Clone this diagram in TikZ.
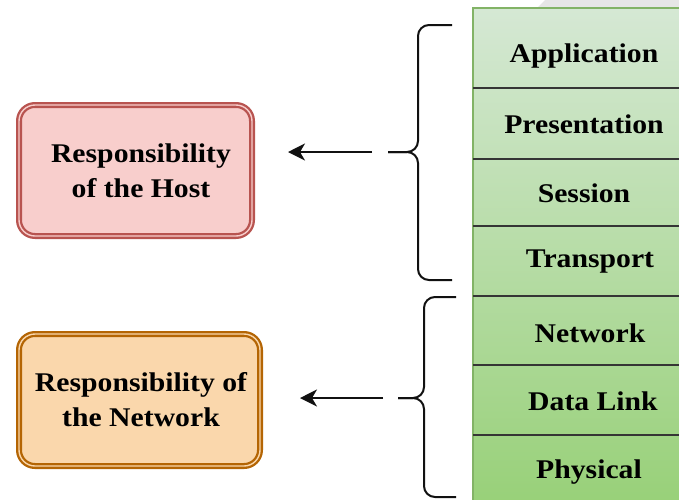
\documentclass[tikz,border=0pt]{standalone}
\usepackage{fontspec}
\setmainfont{Liberation Serif}[FakeStretch=1.1]
\usetikzlibrary{arrows.meta}
\definecolor{hostfill}{HTML}{F8CECC}
\definecolor{hoststroke}{HTML}{B85450}
\definecolor{netfill}{HTML}{FAD7AC}
\definecolor{netstroke}{HTML}{B46504}
\definecolor{greentop}{HTML}{D5E8D4}
\definecolor{greenbot}{HTML}{97D077}
\definecolor{greenstroke}{HTML}{82B366}
\definecolor{shadegray}{HTML}{E6E6E6}
\definecolor{inkblack}{HTML}{111111}
\tikzset{
  layerlabel/.style={font=\fontsize{27}{35}\selectfont\bfseries, inner sep=0pt, anchor=base},
  boxtext/.style={font=\fontsize{27}{35}\selectfont\bfseries, align=center, inner sep=0pt},
  respbox/.style={rounded corners=16pt, line width=2.3pt, double distance=1.4pt, inner sep=0pt},
  hostbox/.style={respbox, draw=hoststroke, double=hostfill, fill=hostfill},
  netbox/.style={respbox, draw=netstroke, double=netfill, fill=netfill},
  sepline/.style={draw=inkblack!85, line width=1.6pt},
  bracepath/.style={draw=inkblack, line width=2pt, rounded corners=11pt},
  pointer/.style={draw=inkblack, line width=2pt, -{Stealth[length=17pt, width=17pt, inset=5pt]}}
}
\begin{document}
\begin{tikzpicture}[x=1pt,y=-1pt]
\useasboundingbox (0,0) rectangle (679,499);
\clip (0,0) rectangle (679,499);
% background shade top right
\fill[shadegray] (545,0) -- (700,0) -- (700,8) -- (537,8) -- cycle;
% OSI stack
\path[top color=greentop, bottom color=greenbot, draw=greenstroke, line width=1.6pt] (473,8) rectangle (712,512);
\draw[sepline] (473,88) -- (712,88);
\draw[sepline] (473,159) -- (712,159);
\draw[sepline] (473,226) -- (712,226);
\draw[sepline] (473,296) -- (712,296);
\draw[sepline] (473,365) -- (712,365);
\draw[sepline] (473,435) -- (712,435);
\node[layerlabel] (app) at (584,62) {Application};
\node[layerlabel] (pres) at (584,133) {Presentation};
\node[layerlabel] (sess) at (584,202) {Session};
\node[layerlabel] (trans) at (590,267) {Transport};
\node[layerlabel] (net) at (590,342) {Network};
\node[layerlabel] (dlink) at (593,410) {Data Link};
\node[layerlabel] (phys) at (589,478) {Physical};
% braces
\draw[bracepath] (452,25) -- (418,25) -- (418,152) -- (388,152);
\draw[bracepath] (388,152) -- (418,152) -- (418,280) -- (452,280);
\draw[bracepath] (456,297) -- (424,297) -- (424,398) -- (398,398);
\draw[bracepath] (398,398) -- (424,398) -- (424,497) -- (456,497);
% boxes
\node[hostbox, minimum width=233pt, minimum height=131pt] (host) at (135.5,170.5) {};
\node[boxtext] (hosttext) at (141,170.5) {Responsibility\\of the Host};
\node[netbox, minimum width=241pt, minimum height=132pt] (network) at (139.5,400) {};
\node[boxtext] (nettext) at (141,400) {Responsibility of\\the Network};
% arrows
\coordinate (hoststart) at (372,152);
\coordinate (hostend) at (288,152);
\coordinate (netstart) at (383,398);
\coordinate (netend) at (300,398);
\draw[pointer] (hoststart) -- (hostend);
\draw[pointer] (netstart) -- (netend);
\end{tikzpicture}
\end{document}
